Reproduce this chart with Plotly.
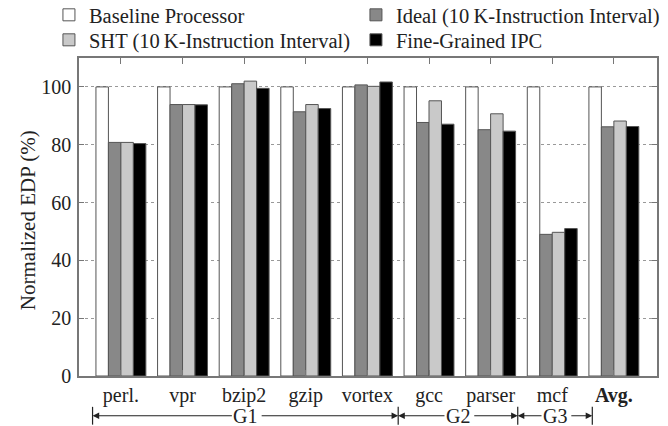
import plotly.graph_objects as go

categories = ["perl.", "vpr", "bzip2", "gzip", "vortex", "gcc", "parser", "mcf", "<b>Avg.</b>"]
baseline = [100, 100, 100, 100, 100, 100, 100, 100, 100]
ideal = [80.8, 93.9, 101.1, 91.4, 100.7, 87.7, 85.2, 49.0, 86.2]
sht = [80.8, 93.9, 102.0, 93.9, 100.2, 95.2, 90.7, 49.7, 88.2]
fine = [80.4, 93.8, 99.5, 92.5, 101.7, 87.1, 84.7, 51.0, 86.3]

series_names = ["Baseline Processor", "Ideal (10\u2009K-Instruction Interval)",
                "SHT (10\u2009K-Instruction Interval)", "Fine-Grained IPC"]
series_colors = ["#ffffff", "#888888", "#c9c9c9", "#000000"]
series_legend = ["legend", "legend", "legend2", "legend2"]

groups = ["G1", "G2", "G3"]
group_bounds = [-0.46, 4.5, 6.44, 7.65]

FONT = "Liberation Serif"
TXT = "#222222"

fig = go.Figure()
for name, vals, col, lg in zip(series_names, [baseline, ideal, sht, fine],
                               series_colors, series_legend):
    fig.add_trace(go.Bar(
        x=categories, y=vals, name=name, legend=lg,
        marker=dict(color=col, line=dict(color="#555555", width=1)),
    ))

# group arrows below the axis
arrow_y = -0.125
label_half = 0.24  # half width of a group label, in category units
for i, g in enumerate(groups):
    a, b = group_bounds[i], group_bounds[i + 1]
    mid = (a + b) / 2
    # right-pointing arrow, starting just right of the label
    fig.add_annotation(
        x=b, y=arrow_y, xref="x", yref="paper",
        ax=mid + label_half, ay=0, axref="x", ayref="pixel",
        text="", showarrow=True, arrowhead=2, arrowsize=1.1, arrowwidth=1.2,
        arrowcolor=TXT,
    )
    # left-pointing arrow carrying the label
    fig.add_annotation(
        x=a, y=arrow_y, xref="x", yref="paper",
        ax=mid, ay=0, axref="x", ayref="pixel",
        text=g, showarrow=True, arrowhead=2, arrowsize=1.1, arrowwidth=1.2,
        arrowcolor=TXT, font=dict(family=FONT, size=20, color=TXT),
        borderpad=1,
    )
for bnd in group_bounds:
    fig.add_shape(type="line", xref="x", yref="paper", x0=bnd, x1=bnd,
                  y0=arrow_y + 0.028, y1=arrow_y - 0.028,
                  line=dict(color=TXT, width=1.2))

# y-axis title
fig.add_annotation(text="Normalized EDP (%)", textangle=-90, xref="paper", yref="paper",
                   x=(28 - 79) / 578, y=0.49, xanchor="center", yanchor="middle",
                   showarrow=False, font=dict(family=FONT, size=21, color=TXT))

legend_common = dict(orientation="h", xanchor="left", yanchor="middle",
                     entrywidth=262, itemwidth=30, bgcolor="rgba(0,0,0,0)",
                     font=dict(family=FONT, size=20.5, color=TXT))

fig.update_layout(
    width=668, height=426,
    margin=dict(l=79, r=11, t=58, b=50, autoexpand=False),
    plot_bgcolor="white", paper_bgcolor="white",
    barmode="group", bargap=0.19, bargroupgap=0,
    font=dict(family=FONT, size=20, color=TXT),
    legend=dict(x=-0.052, y=(376 - 15) / 318, **legend_common),
    legend2=dict(x=-0.052, y=(376 - 40) / 318, **legend_common),
    xaxis=dict(range=[-0.68, 8.70], showline=True, linecolor="#777777", linewidth=1.5,
               mirror="ticks", ticks="inside", ticklen=6, tickcolor="#777777",
               automargin=False,
               tickfont=dict(family=FONT, size=20, color=TXT)),
    yaxis=dict(range=[0, 110], tickvals=[0, 20, 40, 60, 80, 100],
               showline=True, linecolor="#777777", linewidth=1.5,
               mirror="ticks", ticks="inside", ticklen=5, tickcolor="#777777",
               showgrid=True, gridcolor="#999999", griddash="dot", gridwidth=1,
               zeroline=False, ticklabelstandoff=2, automargin=False,
               tickfont=dict(family=FONT, size=20, color=TXT)),
)

fig.write_html("out.html")
